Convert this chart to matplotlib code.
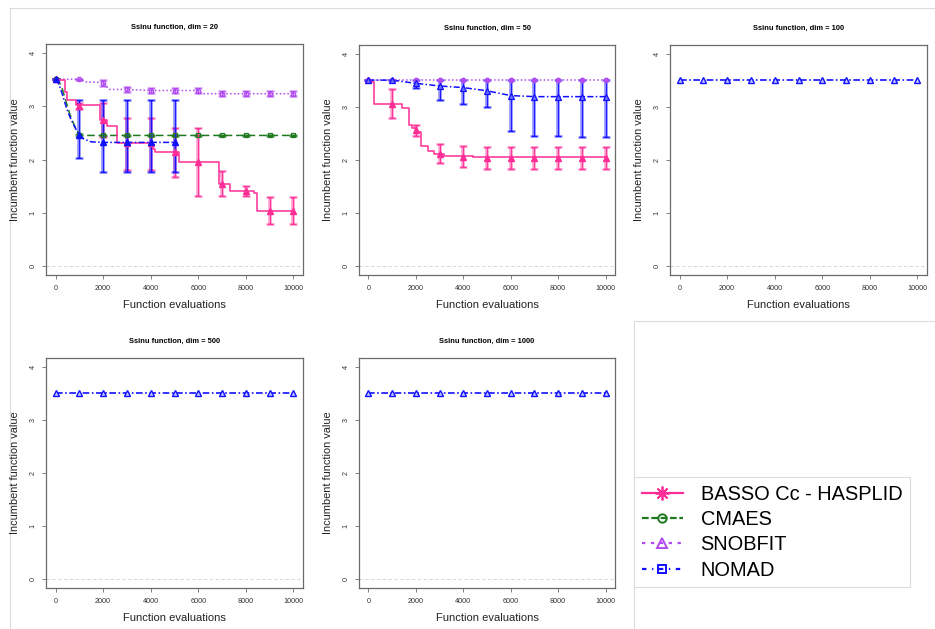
import matplotlib
matplotlib.use("Agg")
import matplotlib.pyplot as plt
from matplotlib.lines import Line2D
import numpy as np

plt.rcParams['font.family'] = ['Liberation Sans', 'DejaVu Sans']

# ---------------- data ----------------
X_EVAL = [0, 1000, 2000, 3000, 4000, 5000, 6000, 7000, 8000, 9000, 10000]
X_TICKS = [0, 2000, 4000, 6000, 8000, 10000]
Y_TICKS = [0, 1, 2, 3, 4]
DIMS = [20, 50, 100, 500, 1000]
LABELS = ["BASSO Cc - HASPLID", "CMAES", "SNOBFIT", "NOMAD"]

# dim = 20
basso20_curve_x = [0, 380, 480, 870, 1890, 2170, 2590, 4100, 4200, 5170, 6880, 7340, 8360, 8460, 10000]
basso20_curve_y = [3.48, 3.26, 3.11, 3.01, 2.74, 2.62, 2.31, 2.20, 2.14, 1.95, 1.54, 1.41, 1.38, 1.04, 1.04]
basso20_mean = [3.50, 3.00, 2.74, 2.31, 2.31, 2.14, 1.95, 1.54, 1.41, 1.04, 1.04]
basso20_lo = [3.50, 2.95, 2.42, 1.80, 1.80, 1.68, 1.31, 1.31, 1.32, 0.79, 0.79]
basso20_hi = [3.50, 3.06, 3.06, 2.78, 2.78, 2.58, 2.58, 1.78, 1.51, 1.30, 1.30]

cmaes20_curve_x = [0, 150, 300, 450, 600, 750, 900, 1000, 1150, 10000]
cmaes20_curve_y = [3.50, 3.46, 3.30, 3.07, 2.85, 2.68, 2.54, 2.48, 2.45, 2.45]
cmaes20_mean = [3.50, 2.46, 2.45, 2.45, 2.45, 2.45, 2.45, 2.45, 2.45, 2.45, 2.45]
cmaes20_lo = [3.50, 2.44, 2.44, 2.44, 2.44, 2.44, 2.44, 2.44, 2.44, 2.44, 2.44]
cmaes20_hi = [3.50, 2.48, 2.46, 2.46, 2.46, 2.46, 2.46, 2.46, 2.46, 2.46, 2.46]

snob20_curve_x = [0, 1000, 1300, 2000, 2250, 3000, 4000, 6000, 6150, 10000]
snob20_curve_y = [3.50, 3.50, 3.45, 3.44, 3.31, 3.31, 3.29, 3.29, 3.23, 3.23]
snob20_mean = [3.50, 3.50, 3.43, 3.31, 3.29, 3.29, 3.29, 3.23, 3.23, 3.23, 3.23]
snob20_lo = [3.50, 3.49, 3.38, 3.27, 3.25, 3.25, 3.25, 3.18, 3.18, 3.18, 3.18]
snob20_hi = [3.50, 3.51, 3.48, 3.35, 3.33, 3.33, 3.33, 3.28, 3.28, 3.28, 3.28]

nomad20_curve_x = [0, 150, 300, 450, 600, 750, 900, 1000, 1200, 1500, 2000, 5100]
nomad20_curve_y = [3.50, 3.40, 3.20, 2.98, 2.80, 2.66, 2.53, 2.46, 2.38, 2.33, 2.32, 2.32]
nomad20_x = [0, 1000, 2000, 3000, 4000, 5000]
nomad20_mean = [3.50, 2.46, 2.32, 2.32, 2.32, 2.32]
nomad20_lo = [3.50, 2.02, 1.76, 1.76, 1.76, 1.76]
nomad20_hi = [3.50, 3.12, 3.12, 3.12, 3.12, 3.12]

# dim = 50
basso50_curve_x = [0, 230, 1410, 1710, 1850, 2000, 2220, 2500, 2750, 3200, 4400, 10000]
basso50_curve_y = [3.47, 3.06, 2.98, 2.65, 2.60, 2.53, 2.26, 2.16, 2.12, 2.07, 2.05, 2.05]
basso50_mean = [3.50, 3.06, 2.56, 2.12, 2.06, 2.04, 2.04, 2.04, 2.04, 2.04, 2.04]
basso50_lo = [3.50, 2.79, 2.46, 1.94, 1.86, 1.84, 1.84, 1.84, 1.84, 1.84, 1.84]
basso50_hi = [3.50, 3.33, 2.66, 2.30, 2.26, 2.24, 2.24, 2.24, 2.24, 2.24, 2.24]

snob50_mean = [3.50, 3.50, 3.50, 3.50, 3.50, 3.50, 3.50, 3.50, 3.50, 3.50, 3.50]

nomad50_mean = [3.50, 3.50, 3.44, 3.39, 3.36, 3.30, 3.21, 3.19, 3.19, 3.19, 3.19]
nomad50_lo = [3.50, 3.50, 3.36, 3.13, 3.05, 3.00, 2.55, 2.46, 2.45, 2.44, 2.44]
nomad50_hi = [3.50, 3.50, 3.50, 3.50, 3.50, 3.50, 3.50, 3.50, 3.50, 3.50, 3.50]

# dim = 100, 500, 1000 (all methods stay at the start value)
flat_mean = [3.50, 3.50, 3.50, 3.50, 3.50, 3.50, 3.50, 3.50, 3.50, 3.50, 3.50]

# ---------------- style ----------------
PINK = "#ff2d96"
GREEN = "#1f7a1f"
PURPLE = "#b04cf0"
BLUE = "#1010ff"
W, H = 935, 629

fig = plt.figure(figsize=(W / 100, H / 100), dpi=100)
fig.patch.set_facecolor("white")


def fx(x):
    return x / W


def fy(y):
    return 1 - y / H


def make_axes(left, top, right, bottom, title):
    ax = fig.add_axes([fx(left), fy(bottom), (right - left) / W, (bottom - top) / H])
    ax.set_xlim(-400, 10400)
    ax.set_ylim(-0.16, 4.16)
    ax.set_xticks(X_TICKS)
    ax.set_xticklabels([str(t) for t in X_TICKS])
    ax.set_yticks(Y_TICKS)
    ax.set_yticklabels([str(t) for t in Y_TICKS], rotation=90, va="center")
    for s in ax.spines.values():
        s.set_color("#6b6b6b")
        s.set_linewidth(0.9)
    ax.tick_params(axis="both", length=3, width=0.6, color="#6b6b6b",
                   labelsize=5.2, labelcolor="#333333")
    ax.tick_params(axis="x", pad=4.5)
    ax.tick_params(axis="y", pad=3.8)
    ax.axhline(0, color="#d0d0d0", lw=0.6, ls=(0, (4, 3)), zorder=0)
    fig.text(fx((left + right) / 2), fy(top - 16.5), title, ha="center", va="center",
             fontsize=5.4, fontweight="bold")
    fig.text(fx(left - 31), fy((top + bottom) / 2), "Incumbent function value",
             rotation=90, ha="center", va="center", fontsize=7.9, color="#222222")
    fig.text(fx((left + right) / 2), fy(bottom + 30), "Function evaluations",
             ha="center", va="center", fontsize=8, color="#222222")
    return ax


def err(ax, x, mean, lo, hi, color):
    x = np.asarray(x)
    mean = np.asarray(mean)
    lo = np.asarray(lo)
    hi = np.asarray(hi)
    yerr = np.vstack([mean - lo, hi - mean])
    ax.errorbar(x, mean, yerr=yerr, fmt="none", ecolor=color, elinewidth=2.6,
                capsize=2.6, capthick=2.0, alpha=0.45, zorder=3)
    ax.errorbar(x, mean, yerr=yerr, fmt="none", ecolor=color, elinewidth=0.8,
                capsize=2.2, capthick=0.8, alpha=0.9, zorder=3)


positions = [
    (46, 44, 303, 275),
    (359, 45, 615, 275),
    (670, 45, 927, 275),
    (46, 358, 303, 588),
    (359, 358, 615, 588),
]

axes = [make_axes(*p, f"Ssinu function, dim = {d}") for p, d in zip(positions, DIMS)]

# ---- panel dim 20 ----
ax = axes[0]
ax.plot(snob20_curve_x, snob20_curve_y, color=PURPLE, lw=1.1, ls=(0, (1, 1.5)), zorder=4)
err(ax, X_EVAL, snob20_mean, snob20_lo, snob20_hi, PURPLE)
ax.plot(X_EVAL, snob20_mean, ls="none", marker="o", ms=3.2, mfc="none", mec=PURPLE, mew=0.9, zorder=5)

ax.plot(cmaes20_curve_x, cmaes20_curve_y, color=GREEN, lw=1.1, ls=(0, (5, 2.5)), zorder=4)
err(ax, X_EVAL, cmaes20_mean, cmaes20_lo, cmaes20_hi, GREEN)
ax.plot(X_EVAL, cmaes20_mean, ls="none", marker="s", ms=3.0, mfc="none", mec=GREEN, mew=0.9, zorder=5)

ax.plot(basso20_curve_x, basso20_curve_y, color=PINK, lw=1.1, drawstyle="steps-post", zorder=4)
err(ax, X_EVAL, basso20_mean, basso20_lo, basso20_hi, PINK)
ax.plot(X_EVAL, basso20_mean, ls="none", marker="^", ms=3.8, color=PINK, zorder=5)

ax.plot(nomad20_curve_x, nomad20_curve_y, color=BLUE, lw=1.1, ls=(0, (4, 1.5, 1, 1.5)), zorder=4)
err(ax, nomad20_x, nomad20_mean, nomad20_lo, nomad20_hi, BLUE)
ax.plot(nomad20_x, nomad20_mean, ls="none", marker="^", ms=3.8, color=BLUE, zorder=6)

# ---- panel dim 50 ----
ax = axes[1]
ax.plot(basso50_curve_x, basso50_curve_y, color=PINK, lw=1.1, drawstyle="steps-post", zorder=4)
err(ax, X_EVAL, basso50_mean, basso50_lo, basso50_hi, PINK)
ax.plot(X_EVAL, basso50_mean, ls="none", marker="^", ms=3.8, color=PINK, zorder=5)

ax.plot(X_EVAL, snob50_mean, color=PURPLE, lw=1.1, ls=(0, (1, 1.5)), zorder=4)
ax.plot(X_EVAL, snob50_mean, ls="none", marker="o", ms=3.2, color=PURPLE, zorder=5)

ax.plot(X_EVAL, nomad50_mean, color=BLUE, lw=1.1, ls=(0, (4, 1.5, 1, 1.5)), zorder=4)
err(ax, X_EVAL, nomad50_mean, nomad50_lo, nomad50_hi, BLUE)
ax.plot(X_EVAL, nomad50_mean, ls="none", marker="^", ms=3.8, mfc="#7070ff", mec=BLUE, mew=0.9, zorder=6)

# ---- panels dim 100, 500, 1000 ----
for ax in axes[2:]:
    ax.plot(X_EVAL, flat_mean, color=BLUE, lw=1.2, ls=(0, (4, 1.5, 1, 1.5)), zorder=4)
    ax.plot(X_EVAL, flat_mean, ls="none", marker="^", ms=3.8, mfc="#c8c8ff", mec=BLUE, mew=1.0, zorder=5)

# ---- frame lines of the composite ----
GRAY = "#dcdcdc"
fig.add_artist(Line2D([fx(10), fx(935)], [fy(8), fy(8)], color=GRAY, lw=0.8))
fig.add_artist(Line2D([fx(10), fx(10)], [fy(8), fy(629)], color=GRAY, lw=0.8))
fig.add_artist(Line2D([fx(634), fx(935)], [fy(321), fy(321)], color=GRAY, lw=0.8))
fig.add_artist(Line2D([fx(634), fx(634)], [fy(321), fy(629)], color=GRAY, lw=0.8))

# ---- legend ----
handles = [
    Line2D([], [], color=PINK, lw=1.6, marker=(8, 2, 0), ms=10, mew=1.3),
    Line2D([], [], color=GREEN, lw=1.6, ls=(0, (3, 1.2)), marker="o", ms=6, mfc="none", mew=1.4),
    Line2D([], [], color=PURPLE, lw=1.6, ls=(0, (1.5, 2.5)), marker="^", ms=7, mfc="none", mew=1.4),
    Line2D([], [], color=BLUE, lw=1.6, ls=(0, (2, 2.5, 0.6, 2.5)), marker="s", ms=6, mfc="none", mew=1.4),
]
leg = fig.legend(handles, LABELS, loc="upper left", bbox_to_anchor=(fx(634), fy(477)),
                 fontsize=14.4, frameon=True, fancybox=False, handlelength=2.05,
                 handletextpad=0.9, labelspacing=0.32, borderpad=0.38, borderaxespad=0,
                 edgecolor=GRAY, framealpha=1)
leg.get_frame().set_linewidth(0.8)

fig.savefig("out.png", dpi=100, facecolor="white")
